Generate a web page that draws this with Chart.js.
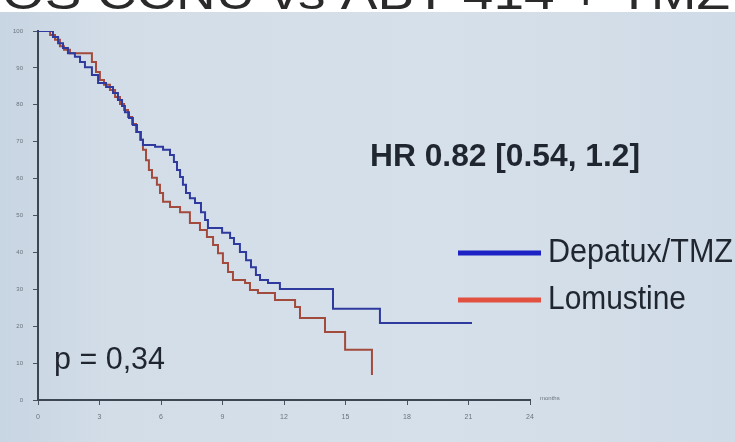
<!DOCTYPE html>
<html><head><meta charset="utf-8">
<script src="https://cdn.jsdelivr.net/npm/chart.js@4"></script>
<style>html,body{margin:0;padding:0;background:#fff}#wrap{width:735px;height:442px;position:relative;overflow:hidden}</style>
</head><body><div id="wrap"><canvas id="c" width="735" height="442"></canvas></div>
<script>
// ---- data ----
const xTicks = [0, 3, 6, 9, 12, 15, 18, 21, 24];
const yTicks = [0, 10, 20, 30, 40, 50, 60, 70, 80, 90, 100];
const seriesNames = ['Depatux/TMZ', 'Lomustine'];
const depatuxTime = [0, 0.73, 0.98, 1.22, 1.46, 1.80, 2.05, 2.29, 2.63, 2.93, 3.32, 3.66, 3.90, 4.10, 4.24, 4.44, 4.63, 4.83, 5.02, 5.12, 5.71, 6.10, 6.44, 6.63, 6.78, 6.93, 7.07, 7.22, 7.41, 7.66, 7.95, 8.15, 8.29, 8.98, 9.37, 9.56, 9.85, 10.15, 10.39, 10.63, 10.83, 11.22, 11.80, 14.39, 16.68, 21.17];
const depatuxSurv = [100, 98.4, 96.7, 95.4, 94.0, 93.0, 91.6, 90.2, 88.1, 85.9, 84.8, 83.2, 81.3, 79.7, 78.0, 76.4, 74.5, 72.6, 70.5, 69.1, 68.6, 67.8, 66.4, 64.5, 62.3, 60.4, 58.3, 56.1, 54.7, 53.4, 50.9, 48.8, 46.6, 45.3, 43.9, 42.3, 40.1, 37.9, 36.0, 33.9, 32.5, 31.7, 30.1, 24.7, 20.9, 20.9];
const lomustineTime = [0, 0.59, 0.83, 1.07, 1.27, 1.56, 2.63, 2.83, 3.02, 3.22, 3.51, 3.76, 4.00, 4.20, 4.39, 4.59, 4.78, 4.98, 5.12, 5.27, 5.41, 5.56, 5.80, 5.95, 6.10, 6.44, 6.93, 7.41, 7.90, 8.24, 8.54, 8.78, 9.02, 9.27, 9.51, 10.10, 10.34, 10.73, 11.56, 12.54, 12.78, 14.00, 14.98, 16.29];
const lomustineSurv = [100, 98.9, 97.6, 95.9, 94.9, 94.0, 91.6, 88.9, 86.7, 85.4, 84.0, 82.1, 80.2, 78.6, 76.7, 74.8, 72.6, 70.5, 67.8, 65.0, 62.3, 60.2, 58.3, 56.1, 53.7, 52.3, 50.9, 48.0, 46.1, 44.2, 42.0, 39.8, 37.1, 34.7, 32.5, 31.7, 29.8, 29.0, 27.1, 25.2, 22.2, 18.4, 13.6, 6.8];
const titleText = 'OS CCNU vs ABT-414 + TMZ';
const hrText = 'HR 0.82 [0.54, 1.2]';
const pText = 'p = 0,34';
const xAxisTitle = 'months';

// ---- styles ----
const lineColors = ['#2e3a9e', '#a24a3c'];
const legendColors = ['#1c22c4', '#e2503f'];
const textColor = '#1f2630';
const FONT = '"Liberation Sans Narrow", "Liberation Sans", Arial, sans-serif';

function fitText(ctx, text, x, baseline, width, size, weight, color) {
  ctx.save();
  ctx.font = `${weight} ${size}px ${FONT}`;
  ctx.fillStyle = color;
  ctx.textBaseline = 'alphabetic';
  ctx.textAlign = 'left';
  const w = ctx.measureText(text).width;
  ctx.translate(x, baseline);
  ctx.scale(width / w, 1);
  ctx.fillText(text, 0, 0);
  ctx.restore();
}

const bgPlugin = {
  id: 'bg',
  beforeDraw(chart) {
    const ctx = chart.ctx;
    ctx.save();
    ctx.fillStyle = '#ffffff';
    ctx.fillRect(0, 0, 735, 442);
    const g = ctx.createLinearGradient(0, 0, 735, 0);
    g.addColorStop(0, '#c8d5e2');
    g.addColorStop(0.15, '#d2dde8');
    g.addColorStop(0.6, '#d6e0ea');
    g.addColorStop(1, '#cfdbe7');
    ctx.fillStyle = g;
    ctx.fillRect(0, 12, 735, 430);
    ctx.beginPath();
    ctx.rect(0, 0, 735, 11);
    ctx.clip();
    fitText(ctx, titleText, 2, 9, 728, 46, 'normal', '#2a2a2a');
    ctx.restore();
  }
};

const textPlugin = {
  id: 'texts',
  afterDraw(chart) {
    const ctx = chart.ctx;
    fitText(ctx, hrText, 370, 166, 270, 32, 'bold', textColor);
    fitText(ctx, pText, 54, 369, 111, 32, 'normal', textColor);
    fitText(ctx, seriesNames[0], 548, 262, 185, 34, 'normal', textColor);
    fitText(ctx, seriesNames[1], 548, 309, 138, 34, 'normal', textColor);
    ctx.save();
    ctx.lineWidth = 5;
    ctx.strokeStyle = legendColors[0];
    ctx.beginPath(); ctx.moveTo(458, 253); ctx.lineTo(541, 253); ctx.stroke();
    ctx.strokeStyle = legendColors[1];
    ctx.beginPath(); ctx.moveTo(458, 300); ctx.lineTo(541, 300); ctx.stroke();
    ctx.font = `6px ${FONT}`;
    ctx.fillStyle = '#6a737d';
    ctx.textBaseline = 'middle';
    ctx.fillText(xAxisTitle, 540, 398);
    ctx.restore();
  }
};

const toPts = (t, s) => t.map((v, i) => ({ x: v, y: s[i] }));

new Chart(document.getElementById('c'), {
  type: 'line',
  data: {
    datasets: [
      { label: seriesNames[0], data: toPts(depatuxTime, depatuxSurv), borderColor: lineColors[0], borderWidth: 2, pointRadius: 0, stepped: 'before', fill: false },
      { label: seriesNames[1], data: toPts(lomustineTime, lomustineSurv), borderColor: lineColors[1], borderWidth: 2, pointRadius: 0, stepped: 'before', fill: false }
    ]
  },
  options: {
    responsive: false,
    animation: false,
    devicePixelRatio: 1,
    layout: { padding: { left: 0, top: 31, right: 205, bottom: 0 } },
    plugins: { legend: { display: false }, tooltip: { enabled: false } },
    scales: {
      x: {
        type: 'linear', min: 0, max: 24,
        afterBuildTicks: s => { s.ticks = xTicks.map(v => ({ value: v })); },
        afterFit: s => { s.height = 42; },
        grid: { drawOnChartArea: false, drawTicks: true, tickLength: 5, color: '#4a5461', lineWidth: 1 },
        border: { color: '#3d4754', width: 2 },
        ticks: { font: { size: 7, family: FONT }, color: '#6a737d', padding: 8, maxRotation: 0 }
      },
      y: {
        type: 'linear', min: 0, max: 100,
        afterBuildTicks: s => { s.ticks = yTicks.map(v => ({ value: v })); },
        afterFit: s => { s.width = 38; },
        grid: { drawOnChartArea: false, drawTicks: true, tickLength: 5, color: '#4a5461', lineWidth: 1 },
        border: { color: '#3d4754', width: 2 },
        ticks: { font: { size: 6, family: FONT }, color: '#6a737d', padding: 10 }
      }
    }
  },
  plugins: [bgPlugin, textPlugin]
});
</script>
</body></html>
